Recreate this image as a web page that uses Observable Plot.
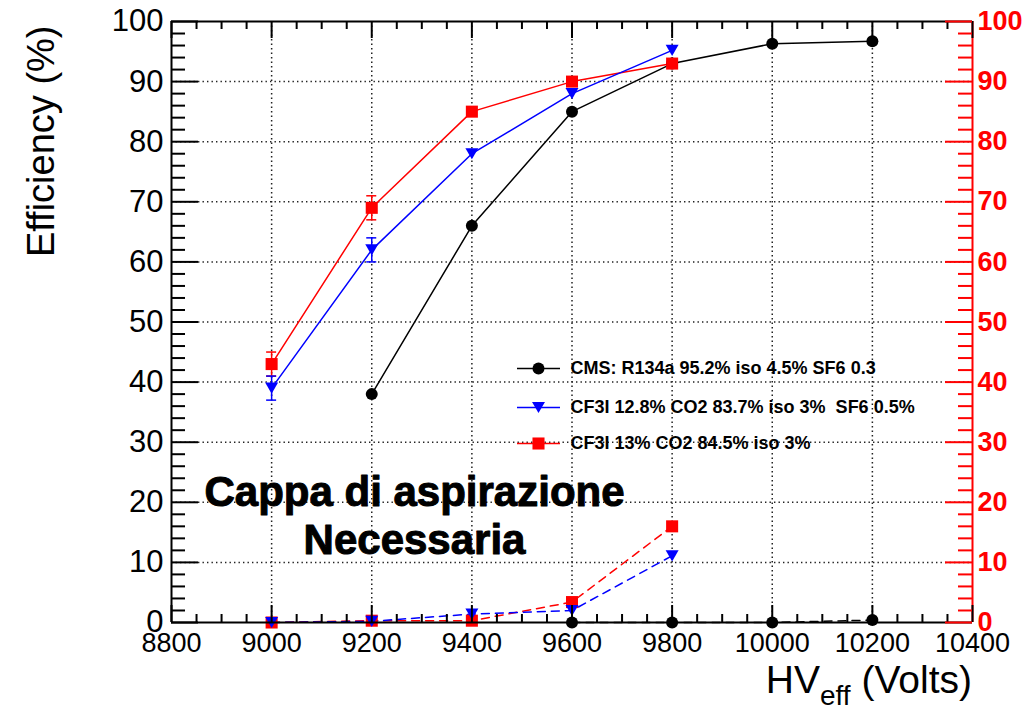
<!DOCTYPE html>
<html>
<head>
<meta charset="utf-8">
<script src="https://cdn.jsdelivr.net/npm/d3@7"></script>
<script src="https://cdn.jsdelivr.net/npm/@observablehq/plot@0.6"></script>
<style>
  body { margin: 0; background: #fff; }
  #chart svg { display: block; }
</style>
</head>
<body>
<div id="chart"></div>
<script>
// Efficiency vs effective HV for three gas mixtures (solid) and the low curves (dashed)
const cmsVolts = [9200, 9400, 9600, 9800, 10000, 10200];
const cmsEff = [38, 66, 85, 93, 96.3, 96.7];
const cmsLowVolts = [9600, 9800, 10000, 10200];
const cmsLow = [0, 0, 0, 0.4];

const cf3iVolts = [9000, 9200, 9400, 9600, 9800];
const sf6Eff = [39, 62, 78, 88, 95.2];
const sf6Err = [2, 2, 0, 0, 0];
const sf6Low = [0, 0.2, 1.4, 2.0, 11.1];

const isoEff = [43, 69, 85, 90, 93];
const isoErr = [2, 2, 0, 0, 0];
const isoLow = [0, 0.3, 0.3, 3.4, 16];

const seriesLabels = [
  "CMS: R134a 95.2% iso 4.5% SF6 0.3",
  "CF3I 12.8% CO2 83.7% iso 3%\u00a0 SF6 0.5%",
  "CF3I 13% CO2 84.5% iso 3%"
];
const xTickLabels = [8800, 9000, 9200, 9400, 9600, 9800, 10000, 10200, 10400];
const yTickLabels = [0, 10, 20, 30, 40, 50, 60, 70, 80, 90, 100];
const xTitle = ["HV", "eff", " (Volts)"];
const yTitle = "Efficiency (%)";
const note = "Cappa di aspirazione\nNecessaria";

const BLACK = "#000000", RED = "#ff0000", BLUE = "#0000ff";

// frame geometry
const W = 1035, H = 712, ML = 171, MR = 63, MT = 21, MB = 90;
const X0 = xTickLabels[0], X1 = xTickLabels[xTickLabels.length - 1];
const Y0 = yTickLabels[0], Y1 = yTickLabels[yTickLabels.length - 1];
const kx = (X1 - X0) / (W - ML - MR);   // volts per pixel
const ky = (Y1 - Y0) / (H - MT - MB);   // percent per pixel
const toX = p => X0 + (p - ML) * kx;
const toY = p => Y1 - (p - MT) * ky;

const pts = (xs, ys, es) => xs.map((x, i) => ({x, y: ys[i], e: es ? es[i] : 0}));
const cms = pts(cmsVolts, cmsEff);
const cmsL = pts(cmsLowVolts, cmsLow);
const sf6 = pts(cf3iVolts, sf6Eff, sf6Err);
const sf6L = pts(cf3iVolts, sf6Low);
const iso = pts(cf3iVolts, isoEff, isoErr);
const isoL = pts(cf3iVolts, isoLow);

// ticks drawn inside the frame, ROOT style
const xMinor = d3.range(X0, X1 + 1, 50).filter(v => v % 200 !== 0);
const yMinor = d3.range(Y0, Y1 + 1, 2).filter(v => v % 10 !== 0);
const xMajLen = 17 * ky, xMinLen = 8 * ky;
const yMajLen = 27 * kx, yMinLen = 14 * kx;
const capHalf = 5 * kx;

// downward triangle marker, centred on its bounding box
const triangleDown = {
  draw(context, size) {
    const r = Math.sqrt(size / Math.PI);
    const hw = 1.35 * r, h = 2.33 * r;
    context.moveTo(-hw, -h / 2);
    context.lineTo(hw, -h / 2);
    context.lineTo(0, h / 2);
    context.closePath();
  }
};

const grid = {stroke: "#222", strokeWidth: 1.5, strokeDasharray: "1.4,3.1"};
const errMarks = (data, color) => {
  const d = data.filter(p => p.e > 0);
  return [
    Plot.ruleX(d, {x: "x", y1: p => p.y - p.e, y2: p => p.y + p.e, stroke: color, strokeWidth: 1.5}),
    Plot.ruleY(d, {y: p => p.y - p.e, x1: p => p.x - capHalf, x2: p => p.x + capHalf, stroke: color, strokeWidth: 1.5}),
    Plot.ruleY(d, {y: p => p.y + p.e, x1: p => p.x - capHalf, x2: p => p.x + capHalf, stroke: color, strokeWidth: 1.5})
  ];
};

// legend rows
const legendY = [368, 407, 443].map(toY);
const legX1 = toX(517), legX2 = toX(560), legXm = toX(538), legXt = toX(570);
const legColors = [BLACK, BLUE, RED];

const chart = Plot.plot({
  width: W,
  height: H,
  marginLeft: ML,
  marginRight: MR,
  marginTop: MT,
  marginBottom: MB,
  x: {domain: [X0, X1], axis: null},
  y: {domain: [Y0, Y1], axis: null},
  style: {fontFamily: "'Liberation Sans', Arial, Helvetica, sans-serif", background: "#fff"},
  marks: [
    // dotted grid
    Plot.ruleX(xTickLabels.slice(1, -1), {x: d => d, ...grid}),
    Plot.ruleY(yTickLabels.slice(1, -1), {y: d => d, ...grid}),

    // dashed curves
    Plot.line(cmsL, {x: "x", y: "y", stroke: BLACK, strokeWidth: 1.5, strokeDasharray: "8,6"}),
    Plot.line(isoL, {x: "x", y: "y", stroke: RED, strokeWidth: 1.5, strokeDasharray: "8,6"}),
    Plot.line(sf6L, {x: "x", y: "y", stroke: BLUE, strokeWidth: 1.5, strokeDasharray: "8,6"}),

    // solid curves
    Plot.line(cms, {x: "x", y: "y", stroke: BLACK, strokeWidth: 1.5}),
    Plot.line(iso, {x: "x", y: "y", stroke: RED, strokeWidth: 1.5}),
    Plot.line(sf6, {x: "x", y: "y", stroke: BLUE, strokeWidth: 1.5}),

    ...errMarks(iso, RED),
    ...errMarks(sf6, BLUE),

    // markers
    Plot.dot(cms.concat(cmsL), {x: "x", y: "y", symbol: "circle", r: 6, fill: BLACK}),
    Plot.dot(iso.concat(isoL), {x: "x", y: "y", symbol: "square", r: 6.8, fill: RED}),
    Plot.dot(sf6.concat(sf6L), {x: "x", y: "y", symbol: triangleDown, r: 4.8, fill: BLUE}),

    // frame
    Plot.ruleX([X0], {x: d => d, stroke: BLACK, strokeWidth: 2}),
    Plot.ruleY([Y0, Y1], {y: d => d, stroke: BLACK, strokeWidth: 2}),
    Plot.ruleX([X1], {x: d => d, stroke: RED, strokeWidth: 2}),

    // x ticks, bottom and top
    Plot.ruleX(xTickLabels, {x: d => d, y1: Y0, y2: Y0 + xMajLen, stroke: BLACK, strokeWidth: 2}),
    Plot.ruleX(xMinor, {x: d => d, y1: Y0, y2: Y0 + xMinLen, stroke: BLACK, strokeWidth: 2}),
    Plot.ruleX(xTickLabels, {x: d => d, y1: Y1 - xMajLen, y2: Y1, stroke: BLACK, strokeWidth: 2}),
    Plot.ruleX(xMinor, {x: d => d, y1: Y1 - xMinLen, y2: Y1, stroke: BLACK, strokeWidth: 2}),

    // left y ticks
    Plot.ruleY(yTickLabels, {y: d => d, x1: X0, x2: X0 + yMajLen, stroke: BLACK, strokeWidth: 2}),
    Plot.ruleY(yMinor, {y: d => d, x1: X0, x2: X0 + yMinLen, stroke: BLACK, strokeWidth: 2}),

    // right (red) y ticks
    Plot.ruleY(yTickLabels, {y: d => d, x1: X1 - yMajLen, x2: X1, stroke: RED, strokeWidth: 2}),
    Plot.ruleY(yMinor, {y: d => d, x1: X1 - yMinLen, x2: X1, stroke: RED, strokeWidth: 2}),

    // tick labels
    Plot.text(xTickLabels, {x: d => d, y: Y0, text: d => String(d), dy: 10, lineAnchor: "top", fontSize: 27, fill: BLACK}),
    Plot.text(yTickLabels, {x: X0, y: d => d, text: d => String(d), dx: -8, textAnchor: "end", fontSize: 31, fill: BLACK}),
    Plot.text(yTickLabels, {x: X1, y: d => d, text: d => String(d), dx: 5, textAnchor: "start", fontSize: 27, fontWeight: "bold", fill: RED}),

    // y title
    Plot.text([yTitle], {frameAnchor: "top-left", dx: -130, dy: 4, rotate: -90, textAnchor: "end", lineAnchor: "middle", fontSize: 38, fill: BLACK}),

    // legend
    ...seriesLabels.map((label, i) => Plot.ruleY([legendY[i]], {y: d => d, x1: legX1, x2: legX2, stroke: legColors[i], strokeWidth: 1.5})),
    Plot.dot([legendY[0]], {x: legXm, y: d => d, symbol: "circle", r: 6, fill: BLACK}),
    Plot.dot([legendY[1]], {x: legXm, y: d => d, symbol: triangleDown, r: 4.8, fill: BLUE}),
    Plot.dot([legendY[2]], {x: legXm, y: d => d, symbol: "square", r: 6.8, fill: RED}),
    Plot.text(seriesLabels, {x: legXt, y: (d, i) => legendY[i], text: d => d, textAnchor: "start", fontSize: 18, fontWeight: "bold", fill: BLACK}),

    // annotation
    Plot.text([note], {x: toX(414), y: toY(553), text: d => d, textAnchor: "middle", lineAnchor: "bottom", lineHeight: 48 / 42, fontSize: 42, fontWeight: "bold", fill: BLACK, stroke: BLACK, strokeWidth: 1})
  ]
});

// x title with subscript
const svg = d3.select(chart);
const t = svg.append("text")
  .attr("x", W - MR)
  .attr("y", H - 19)
  .attr("text-anchor", "end")
  .attr("font-family", "'Liberation Sans', Arial, Helvetica, sans-serif")
  .attr("font-size", 39)
  .attr("fill", BLACK);
t.append("tspan").text(xTitle[0]);
t.append("tspan").attr("font-size", 28).attr("dy", 12).text(xTitle[1]);
t.append("tspan").attr("dy", -12).style("white-space", "pre").text(xTitle[2]);

document.getElementById("chart").appendChild(chart);
</script>
</body>
</html>
